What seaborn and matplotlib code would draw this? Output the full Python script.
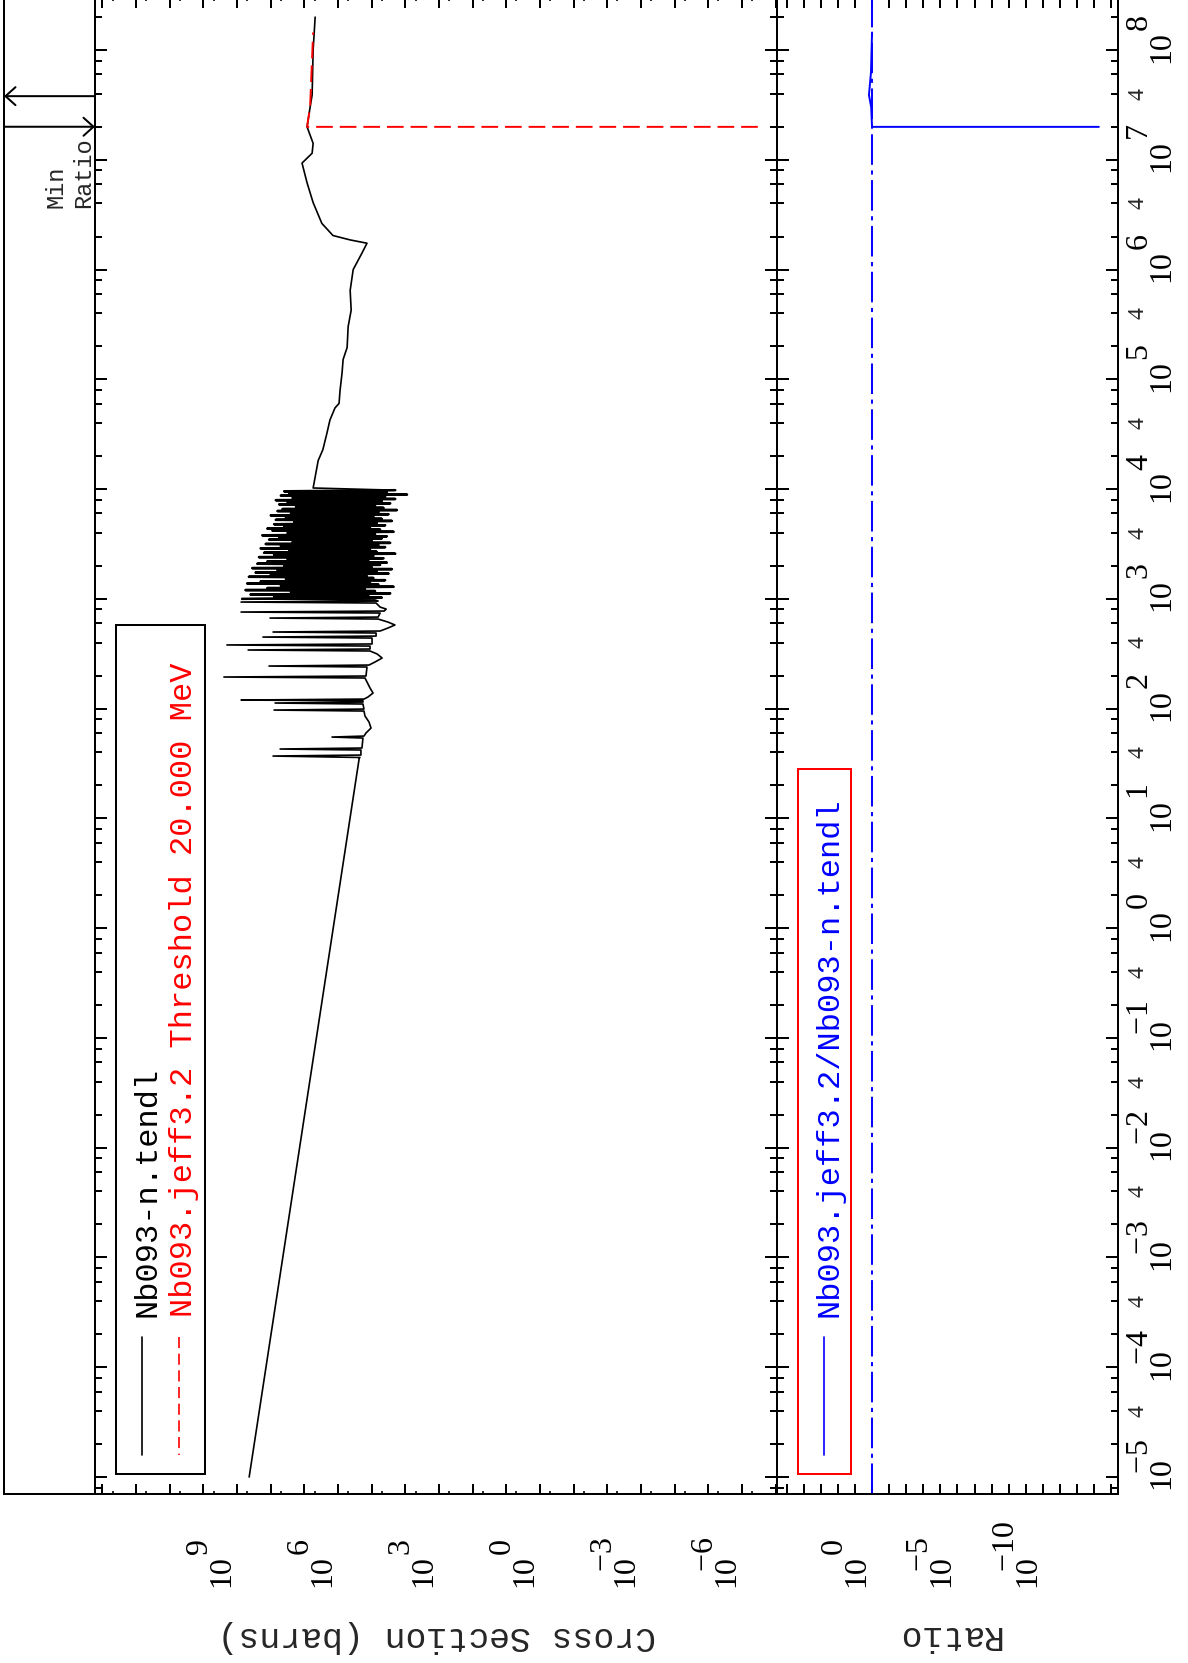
"""Nb093 cross section vs JEFF3.2, drawn the way the ENDF plotter lays it out (page turned on its side)."""
import matplotlib
matplotlib.use("Agg")
import matplotlib.pyplot as plt
import matplotlib.transforms as mtransforms
from matplotlib.lines import Line2D
from matplotlib.patches import Rectangle
from matplotlib.ticker import LogLocator, NullLocator, NullFormatter
import numpy as np
import seaborn as sns

# ---- values (log10 of energy in eV / cross section in barns) ----
# 1/v part below the first resonance
low_logE = [-5.00, 1.55]
low_logxs = [8.64, 5.37]

# isolated resonances: thin spikes to the left, rounded dips to the right
iso_logE = [1.555, 1.568, 1.577, 1.623, 1.632, 1.641, 1.732, 1.741, 1.750,
            1.778, 1.823, 1.878, 1.933, 1.978, 1.987, 1.996, 2.042, 2.051, 2.060,
            2.072, 2.078, 2.087, 2.106, 2.142, 2.188, 2.279, 2.288, 2.297,
            2.379, 2.388, 2.397, 2.425, 2.461, 2.498, 2.525, 2.534, 2.543,
            2.570, 2.580, 2.589, 2.643, 2.652, 2.661, 2.689, 2.698, 2.707,
            2.734, 2.762, 2.789, 2.816, 2.825, 2.834, 2.871, 2.880, 2.889,
            2.907, 2.925, 2.962, 2.971, 2.980, 2.990]
iso_logxs = [5.35, 7.93, 5.32, 5.32, 7.72, 5.29, 5.26, 6.18, 5.23,
             5.17, 5.02, 5.08, 5.20, 5.23, 7.90, 5.23, 5.26, 7.87, 5.26,
             5.26, 8.88, 5.23, 5.11, 4.96, 5.05, 5.20, 9.39, 5.17,
             5.14, 8.05, 5.08, 4.90, 4.69, 4.84, 5.05, 8.67, 5.05,
             5.05, 9.30, 4.99, 4.99, 8.23, 4.87, 4.87, 7.93, 4.75,
             4.52, 4.31, 4.52, 4.81, 8.02, 4.81, 4.75, 8.88, 4.63,
             4.57, 4.75, 4.87, 8.88, 4.81, 4.90]

# dense forest 1-10 keV: tops and bottoms of the spikes
dense_peak_logE = [3.000, 3.022, 3.040, 3.061, 3.080, 3.098, 3.121, 3.140, 3.158, 3.180,
                   3.201, 3.219, 3.240, 3.262, 3.280, 3.298, 3.320, 3.341, 3.359, 3.380,
                   3.402, 3.420, 3.438, 3.460, 3.481, 3.500, 3.519, 3.540, 3.561, 3.579,
                   3.600, 3.622, 3.640, 3.658, 3.680, 3.701, 3.720, 3.739, 3.760, 3.781,
                   3.800, 3.818, 3.840, 3.861, 3.880, 3.899, 3.920, 3.941, 3.960, 3.980]
dense_peak_logxs = [8.85, 7.90, 8.60, 7.40, 8.75, 8.10, 7.70, 8.70, 8.30, 7.55,
                    8.65, 8.00, 8.45, 7.80, 8.55, 7.60, 8.40, 8.10, 7.50, 8.35,
                    7.90, 8.20, 7.45, 8.30, 7.70, 8.15, 7.35, 8.05, 7.75, 8.25,
                    7.50, 7.95, 8.10, 7.60, 7.90, 7.30, 7.85, 7.55, 8.00, 7.40,
                    7.80, 7.65, 7.25, 7.75, 7.50, 7.85, 7.35, 7.70, 7.45, 7.60]
dense_dip_logE = [3.011, 3.031, 3.050, 3.071, 3.089, 3.110, 3.130, 3.149, 3.170, 3.190,
                  3.210, 3.230, 3.251, 3.271, 3.289, 3.310, 3.330, 3.350, 3.370, 3.391,
                  3.411, 3.429, 3.449, 3.471, 3.490, 3.510, 3.530, 3.551, 3.570, 3.590,
                  3.611, 3.631, 3.649, 3.670, 3.690, 3.710, 3.729, 3.750, 3.771, 3.790,
                  3.809, 3.829, 3.851, 3.870, 3.889, 3.910, 3.930, 3.950, 3.970, 3.990]
dense_dip_logxs = [4.70, 5.10, 4.45, 4.90, 5.20, 4.35, 4.80, 5.05, 4.60, 4.95,
                   5.15, 4.50, 4.85, 4.40, 5.00, 4.75, 4.55, 5.10, 4.65, 4.95,
                   4.30, 4.85, 5.05, 4.60, 4.80, 4.45, 5.00, 4.70, 4.55, 4.90,
                   4.35, 4.75, 5.05, 4.60, 4.85, 4.40, 4.70, 4.95, 4.50, 4.80,
                   4.25, 4.65, 4.90, 4.45, 4.70, 4.30, 4.60, 3.95, 4.55, 4.30]

# smooth part above 10 keV
high_logE = [4.01, 4.11, 4.26, 4.36, 4.51, 4.63, 4.74, 4.78, 4.90, 5.06, 5.18, 5.29,
             5.48, 5.63, 5.81, 6.00, 6.15, 6.24, 6.27, 6.31, 6.42, 6.61, 6.79, 6.97,
             7.06, 7.15, 7.30, 7.48, 7.59, 8.00, 8.30]
high_logxs = [6.74, 6.68, 6.59, 6.45, 6.33, 6.24, 6.09, 5.97, 5.94, 5.88, 5.85, 5.73,
              5.70, 5.61, 5.64, 5.55, 5.29, 5.14, 5.64, 6.15, 6.48, 6.74, 6.92, 7.07,
              6.77, 6.74, 6.92, 6.83, 6.77, 6.74, 6.68]

# Nb093.jeff3.2, threshold 20 MeV
jeff_logE = [7.30, 7.30, 7.48, 8.16]
jeff_logxs = [-6.47, 6.92, 6.83, 6.74]

# ratio jeff3.2 / tendl
ratio_logE = [7.30, 7.30, 7.48, 7.59, 7.80, 8.16]
ratio_logval = [-13.27, 0.00, 0.05, 0.18, 0.06, 0.00]

# "Min Ratio" arrows (energy, direction)
minratio_E = [2.0e7, 3.8e7]
minratio_dir = ["right", "left"]

energy_decades = list(range(-5, 9))
xs_label_decades = [9, 6, 3, 0, -3, -6]
ratio_label_decades = [0, -5, -10]

# ---- style ----
sns.set_theme(style="ticks")
plt.rcParams["font.family"] = ["Liberation Mono", "DejaVu Sans"]
plt.rcParams["lines.scale_dashes"] = False
MONO = "Liberation Mono"
SERIF = "Liberation Serif"
NUM_SIZE = 23
LW = 1.44

W, H = 1188, 1663
fig = plt.figure(figsize=(W / 100, H / 100), dpi=100)
fig.patch.set_facecolor("white")

bottom = (H - 1494) / H
height = 1496 / H
ax_m = fig.add_axes([4 / W, bottom, 91 / W, height])
ax = fig.add_axes([95 / W, bottom, 682 / W, height])
ax_r = fig.add_axes([777 / W, bottom, 341 / W, height])

E_lim = (10 ** -5.155, 10 ** 8.474)

# ---- curves ----
dense_logE = np.column_stack([dense_peak_logE, dense_dip_logE]).ravel()
dense_logxs = np.column_stack([dense_peak_logxs, dense_dip_logxs]).ravel()
tendl_logE = np.concatenate([low_logE, iso_logE, dense_logE, high_logE])
tendl_logxs = np.concatenate([low_logxs, iso_logxs, dense_logxs, high_logxs])

sns.lineplot(x=10 ** tendl_logxs, y=10 ** tendl_logE, sort=False, estimator=None,
             color="black", lw=1.2, ax=ax)
# the forest is solid black in the picture
sns.lineplot(x=10 ** dense_logxs, y=10 ** dense_logE, sort=False, estimator=None,
             color="black", lw=1.8, ax=ax)
sns.lineplot(x=10 ** np.array(jeff_logxs), y=10 ** np.array(jeff_logE), sort=False,
             estimator=None, color="red", lw=1.4, ax=ax)
ax.lines[-1].set_linestyle((0, (12, 5)))

ax_r.axvline(1.0, color="blue", lw=1.4, linestyle=(0, (22, 4, 3, 4)))
sns.lineplot(x=10 ** np.array(ratio_logval), y=10 ** np.array(ratio_logE), sort=False,
             estimator=None, color="blue", lw=1.4, ax=ax_r)

# ---- axes ----
for a in (ax_m, ax, ax_r):
    a.set_yscale("log")
    a.set_ylim(*E_lim)
    for s in a.spines.values():
        s.set_linewidth(LW)
        s.set_color("black")
        s.set_visible(True)
    a.set_facecolor("white")

ax.set_xscale("log")
ax.set_xlim(10 ** 13.22, 10 ** -7.04)
ax_r.set_xscale("log")
ax_r.set_xlim(10 ** 5.56, 10 ** -14.39)
ax_m.set_xlim(0, 1)
ax_m.set_xticks([])
ax_m.yaxis.set_major_locator(NullLocator())
ax_m.yaxis.set_minor_locator(NullLocator())

for a in (ax, ax_r):
    a.xaxis.set_major_locator(LogLocator(base=10, numticks=40))
    a.xaxis.set_minor_locator(NullLocator())
    a.yaxis.set_major_locator(LogLocator(base=10, numticks=40))
    a.yaxis.set_minor_locator(LogLocator(base=10, subs=(2, 4, 6, 8), numticks=40))
    a.yaxis.set_minor_formatter(NullFormatter())
    a.tick_params(axis="both", which="both", direction="in", top=True, bottom=True,
                  left=True, right=True, labelbottom=False, labelleft=False,
                  labeltop=False, labelright=False, color="black", width=LW)
    a.tick_params(axis="x", which="major", length=7.5)
    a.tick_params(axis="y", which="major", length=8.4)
    a.tick_params(axis="y", which="minor", length=5)
    a.set_xlabel("")
    a.set_ylabel("")

# tiny marks at 5 x 10^k on the cross-section axis
ax.xaxis.set_minor_locator(LogLocator(base=10, subs=(5,), numticks=40))
ax.xaxis.set_minor_formatter(NullFormatter())
ax.tick_params(axis="x", which="minor", length=2, width=1.2)

# ---- tick labels: exponent on a line above "10", same size, minus over the "0" ----
offset = mtransforms.offset_copy


def power_text(exp):
    if exp < 0:
        return "  \u2212%d\n10" % -exp
    return "    %d\n10" % exp


num_kw = dict(rotation=90, rotation_mode="anchor", ha="left", va="baseline",
              fontsize=NUM_SIZE, family=SERIF, linespacing=0.63, clip_on=False,
              color="black")

base_xs = offset(mtransforms.blended_transform_factory(ax.transData, ax.transAxes),
                 fig=fig, y=-93, units="dots")
for k in xs_label_decades:
    ax.text(10.0 ** k, 0, power_text(k), transform=base_xs, **num_kw)

base_ratio = offset(mtransforms.blended_transform_factory(ax_r.transData, ax_r.transAxes),
                    fig=fig, y=-93, units="dots")
for k in ratio_label_decades:
    ax_r.text(10.0 ** k, 0, power_text(k), transform=base_ratio, **num_kw)

base_E = offset(mtransforms.blended_transform_factory(ax_r.transAxes, ax_r.transData),
                fig=fig, x=59, y=-12.5, units="dots")
four_E = offset(mtransforms.blended_transform_factory(ax_r.transAxes, ax_r.transData),
                fig=fig, x=25, y=0, units="dots")
for k in energy_decades:
    ax_r.text(1.0, 10.0 ** k, power_text(k), transform=base_E, **num_kw)
    if k < 8:
        ax_r.text(1.0, 4 * 10.0 ** k, "4", rotation=90, rotation_mode="anchor",
                  ha="center", va="baseline", fontsize=17, family=SERIF,
                  transform=four_E, clip_on=False)

fig.text(437 / W, 1 - 1636 / H, "Cross Section (barns)", rotation=180, ha="center",
         va="center", fontsize=25, family=MONO)
fig.text(948 / W, 1 - 1636 / H, "Ratio", rotation=180, ha="center", va="center",
         fontsize=25, family=MONO)

# ---- legends (drawn by hand, rotated with the page) ----
txt = dict(rotation=90, rotation_mode="anchor", ha="left", va="baseline", fontsize=23,
           family=MONO)
ax.add_patch(Rectangle((0.0308, 0.0134), 0.1305, 0.5675, transform=ax.transAxes,
                       fill=False, ec="black", lw=LW))
ax.add_line(Line2D([0.0689, 0.0689], [0.1049, 0.0261], transform=ax.transAxes,
                   color="black", lw=1.2))
ax.add_line(Line2D([0.1232, 0.1232], [0.1049, 0.0261], transform=ax.transAxes,
                   color="red", lw=1.2, linestyle=(0, (8, 4))))
ax.text(0.088, 0.1183, "Nb093-n.tendl", transform=ax.transAxes, color="black", **txt)
ax.text(0.1422, 0.1183, "Nb093.jeff3.2 Threshold 20.000 MeV", transform=ax.transAxes,
        color="red", **txt)

ax_r.add_patch(Rectangle((0.0616, 0.0134), 0.1554, 0.4712, transform=ax_r.transAxes,
                         fill=False, ec="red", lw=LW))
ax_r.add_line(Line2D([0.1378, 0.1378], [0.1049, 0.0261], transform=ax_r.transAxes,
                     color="blue", lw=1.2))
ax_r.text(0.176, 0.1183, "Nb093.jeff3.2/Nb093-n.tendl", transform=ax_r.transAxes,
          color="blue", **txt)

# ---- "Min Ratio" strip ----
for e, d in zip(minratio_E, minratio_dir):
    tip, tail = (1.0, 0.0) if d == "right" else (0.0, 1.0)
    ax_m.annotate("", xy=(tip, e), xytext=(tail, e), xycoords=("axes fraction", "data"),
                  textcoords=("axes fraction", "data"),
                  arrowprops=dict(arrowstyle="->,head_length=0.4,head_width=0.36",
                                  mutation_scale=18, lw=LW, color="black",
                                  shrinkA=0, shrinkB=0))
ax_m.text(0.648, 0.8596, "Min", transform=ax_m.transAxes, rotation=90,
          rotation_mode="anchor", ha="left", va="baseline", fontsize=17, family=MONO)
ax_m.text(0.945, 0.8596, "Ratio", transform=ax_m.transAxes, rotation=90,
          rotation_mode="anchor", ha="left", va="baseline", fontsize=17, family=MONO)

fig.savefig("out.png", dpi=100)
plt.close(fig)
